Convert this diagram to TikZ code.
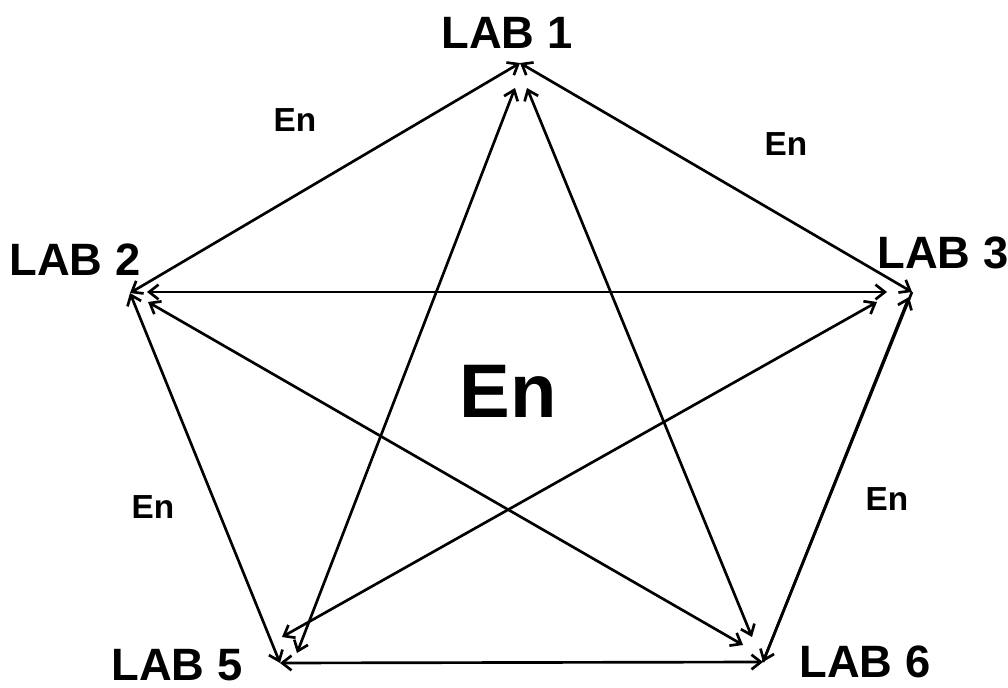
\documentclass[tikz,border=0pt]{standalone}
\usepackage{fontspec}
\setmainfont{Liberation Sans}
\usetikzlibrary{arrows.meta}
\begin{document}
\begin{tikzpicture}[x=0.75pt,y=-0.75pt,
    seta/.style={{Straight Barb[length=7pt,width=11pt]}-{Straight Barb[length=7pt,width=11pt]},line width=2pt},
    rotulo/.style={font=\bfseries\fontsize{34}{34}\selectfont,inner sep=0pt},
    en/.style={font=\bfseries\fontsize{25}{25}\selectfont,inner sep=0pt}]

    % moldura
    \useasboundingbox (0,0) rectangle (1008,688);

    % vértices do pentágono
    \coordinate (v1) at (520,63);
    \coordinate (v2) at (130,293);
    \coordinate (v3) at (912,292);
    \coordinate (v5) at (280,663);
    \coordinate (v6) at (763,662);

    % pontas das diagonais
    \coordinate (d15a) at (515,88);  \coordinate (d15b) at (297,653);
    \coordinate (d16a) at (527,88);  \coordinate (d16b) at (752,637);
    \coordinate (d23a) at (147,292); \coordinate (d23b) at (887,292);
    \coordinate (d26a) at (148,302); \coordinate (d26b) at (743,645);
    \coordinate (d35a) at (877,302); \coordinate (d35b) at (282,637);
    \coordinate (v3b) at (909,297);

    % rótulos
    \node[rotulo] (lab1) at (507,33) {LAB 1};
    \node[rotulo] (lab2) at (75,260) {LAB 2};
    \node[rotulo] (lab3) at (943,253) {LAB 3};
    \node[rotulo] (lab5) at (177,665) {LAB 5};
    \node[rotulo] (lab6) at (865,662) {LAB 6};

    \node[en] (en12) at (295,120) {En};
    \node[en] (en13) at (786,144) {En};
    \node[en] (en25) at (153,507) {En};
    \node[en] (en36) at (887,499) {En};
    \node[font=\bfseries\fontsize{57}{57}\selectfont,inner sep=0pt] (enc) at (508,391) {En};

    % lados
    \draw[seta] (v1) -- (v2);
    \draw[seta] (v1) -- (v3);
    \draw[seta] (v2) -- (v5);
    \draw[seta] (v5) -- (v6);
    \draw[seta] (v3b) -- (v6);
    \draw[line width=2pt] (v3) -- (v6);

    % diagonais
    \draw[seta] (d15a) -- (d15b);
    \draw[seta] (d16a) -- (d16b);
    \draw[seta] (d23a) -- (d23b);
    \draw[seta] (d26a) -- (d26b);
    \draw[seta] (d35a) -- (d35b);

\end{tikzpicture}
\end{document}
